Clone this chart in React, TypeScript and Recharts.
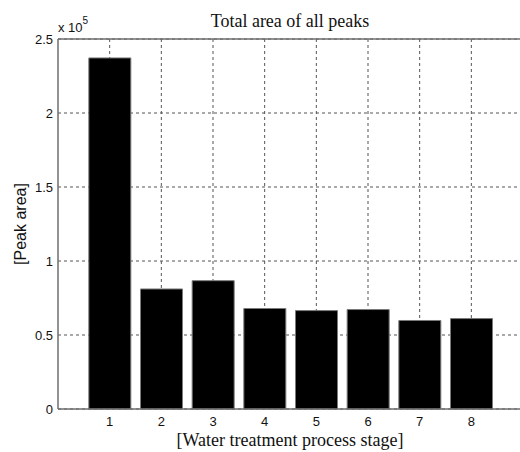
import { BarChart, Bar, XAxis, YAxis, CartesianGrid, ReferenceLine } from 'recharts';

// process stages 1..8
const stages = [1, 2, 3, 4, 5, 6, 7, 8];
// total peak area per stage
const peakArea = [237200, 81100, 86700, 67900, 66500, 67200, 59800, 61100];
const yTicks = [0, 50000, 100000, 150000, 200000, 250000];

const data = stages.map((s, i) => ({ stage: s, area: peakArea[i] }));

const AXIS = '#6e6e6e';
const SANS = '"Liberation Sans", Arial, sans-serif';
const SERIF = '"Liberation Serif", "Times New Roman", serif';

export default function App() {
  return (
    <div style={{ position: 'absolute', left: 0, top: 0, width: 520, height: 452, background: '#fff' }}>
      {/* negative right margin: the plot runs past the edge like the cropped original */}
      <BarChart
        width={520}
        height={452}
        data={data}
        margin={{ top: 39, right: -3, bottom: 0, left: 0 }}
      >
        <CartesianGrid stroke="#555" strokeDasharray="3 3" syncWithTicks />
        <XAxis
          dataKey="stage"
          type="number"
          domain={[0, 9]}
          ticks={stages}
          interval={0}
          height={43}
          tickLine={false}
          axisLine={{ stroke: AXIS, strokeWidth: 1.5 }}
          tick={{ fill: '#111', fontSize: 13, fontFamily: SANS }}
        />
        <YAxis
          width={58}
          domain={[0, 250000]}
          ticks={yTicks}
          interval={0}
          tickLine={false}
          tickSize={4}
          tickMargin={1}
          tickFormatter={(v: number) => String(v / 1e5)}
          axisLine={{ stroke: AXIS, strokeWidth: 1.5 }}
          tick={{ fill: '#111', fontSize: 13, fontFamily: SANS }}
        />
        <ReferenceLine y={250000} stroke={AXIS} strokeWidth={1.5} />
        <Bar dataKey="area" fill="#000" stroke="#7a7a7a" strokeWidth={1} barSize={42} isAnimationActive={false} />
      </BarChart>
      <svg width={520} height={452} style={{ position: 'absolute', left: 0, top: 0, pointerEvents: 'none' }}>
        <text x={290} y={27} textAnchor="middle" fontFamily={SERIF} fontSize={18} fill="#111">
          Total area of all peaks
        </text>
        <text x={58} y={32} fontFamily={SANS} fontSize={13} fill="#111">
          x 10<tspan dy={-8} fontSize={10}>5</tspan>
        </text>
        <text x={290} y={446} textAnchor="middle" fontFamily={SERIF} fontSize={18} fill="#111">
          [Water treatment process stage]
        </text>
        <text
          x={20}
          y={224}
          transform="rotate(-90 20 224)"
          textAnchor="middle"
          dominantBaseline="central"
          fontFamily={SANS}
          fontSize={16}
          fill="#111"
        >
          [Peak area]
        </text>
      </svg>
    </div>
  );
}
